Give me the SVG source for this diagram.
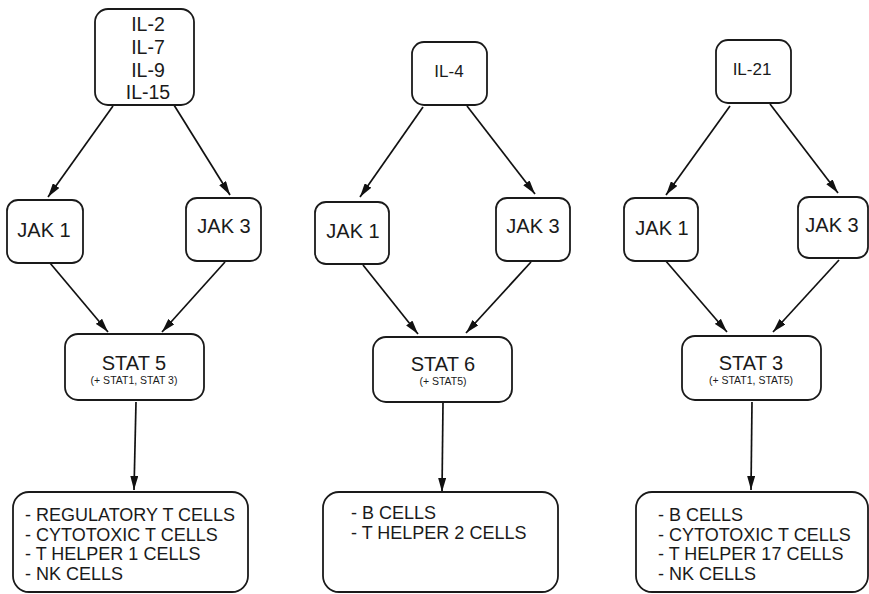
<svg xmlns="http://www.w3.org/2000/svg" width="869" height="594" viewBox="0 0 869 594">
<defs>
<marker id="ah" viewBox="0 0 14 8" refX="14" refY="4" markerWidth="14" markerHeight="8" markerUnits="userSpaceOnUse" orient="auto">
<path d="M0,0 L14,4 L0,8 Z" fill="#111"/>
</marker>
</defs>
<style>
.box{fill:#fff;stroke:#1a1a1a;stroke-width:1.8}
.t{font-family:"Liberation Sans",Arial,sans-serif;fill:#1a1a1a}
.c{text-anchor:middle}
.il{font-size:19.5px}
.jak{font-size:20px}
.stat{font-size:20px}
.sub{font-size:10.5px}
.lst{font-size:18px}
.e{stroke:#111;stroke-width:1.7;fill:none;marker-end:url(#ah)}
</style>
<rect width="869" height="594" fill="#fff"/>
<g id="connectors">
<line class="e" x1="113" y1="106" x2="48" y2="197"/>
<line class="e" x1="174" y1="105" x2="230" y2="195"/>
<line class="e" x1="50" y1="263" x2="108" y2="332"/>
<line class="e" x1="225" y1="262" x2="162" y2="332"/>
<line class="e" x1="136" y1="402" x2="134" y2="490"/>
<line class="e" x1="423" y1="107" x2="360" y2="197"/>
<line class="e" x1="467" y1="106" x2="535" y2="194"/>
<line class="e" x1="363" y1="265" x2="418" y2="334"/>
<line class="e" x1="531" y1="262" x2="466" y2="333"/>
<line class="e" x1="443" y1="403" x2="442" y2="492"/>
<line class="e" x1="730" y1="106" x2="666" y2="195"/>
<line class="e" x1="770" y1="104" x2="838" y2="193"/>
<line class="e" x1="665" y1="260" x2="727" y2="332"/>
<line class="e" x1="839" y1="260" x2="773" y2="332"/>
<line class="e" x1="752" y1="402" x2="751" y2="490"/>
</g>
<g id="il1">
<rect class="box" x="95" y="9" width="99" height="96" rx="13"/>
<text class="t c il" x="148" y="31">IL-2</text>
<text class="t c il" x="148" y="54">IL-7</text>
<text class="t c il" x="148" y="77">IL-9</text>
<text class="t c il" x="148" y="99">IL-15</text>
</g>
<g id="jak1a">
<rect class="box" x="7" y="200" width="76" height="63" rx="11"/>
<text class="t c jak" x="44" y="237">JAK 1</text>
</g>
<g id="jak3a">
<rect class="box" x="186" y="198" width="75" height="63" rx="11"/>
<text class="t c jak" x="224" y="233">JAK 3</text>
</g>
<g id="stat5">
<rect class="box" x="65" y="334" width="139" height="66" rx="13"/>
<text class="t c stat" x="134" y="370">STAT 5</text>
<text class="t c sub" x="134" y="384">(+ STAT1, STAT 3)</text>
</g>
<g id="cells1">
<rect class="box" x="13" y="492" width="235" height="100" rx="16"/>
<text class="t lst" x="25" y="521">- REGULATORY T CELLS</text>
<text class="t lst" x="25" y="540.5">- CYTOTOXIC T CELLS</text>
<text class="t lst" x="25" y="560">- T HELPER 1 CELLS</text>
<text class="t lst" x="25" y="579.5">- NK CELLS</text>
</g>
<g id="il4">
<rect class="box" x="412" y="42" width="75" height="63" rx="12"/>
<text class="t c" style="font-size:17px" x="449" y="77">IL-4</text>
</g>
<g id="jak1b">
<rect class="box" x="315" y="202" width="74" height="62" rx="11"/>
<text class="t c jak" x="353" y="238">JAK 1</text>
</g>
<g id="jak3b">
<rect class="box" x="496" y="198" width="74" height="63" rx="11"/>
<text class="t c jak" x="533" y="233">JAK 3</text>
</g>
<g id="stat6">
<rect class="box" x="373" y="337" width="139" height="65" rx="13"/>
<text class="t c stat" x="443" y="371">STAT 6</text>
<text class="t c sub" x="443" y="385">(+ STAT5)</text>
</g>
<g id="cells2">
<rect class="box" x="323" y="492" width="235" height="100" rx="16"/>
<text class="t lst" x="351" y="519">- B CELLS</text>
<text class="t lst" x="351" y="539">- T HELPER 2 CELLS</text>
</g>
<g id="il21">
<rect class="box" x="716" y="40" width="75" height="63" rx="12"/>
<text class="t c" style="font-size:17px" x="752" y="75">IL-21</text>
</g>
<g id="jak1c">
<rect class="box" x="624" y="198" width="74" height="63" rx="11"/>
<text class="t c jak" x="662" y="235">JAK 1</text>
</g>
<g id="jak3c">
<rect class="box" x="798" y="197" width="70" height="61" rx="11"/>
<text class="t c jak" x="832" y="232">JAK 3</text>
</g>
<g id="stat3">
<rect class="box" x="682" y="336" width="139" height="64" rx="13"/>
<text class="t c stat" x="751" y="370">STAT 3</text>
<text class="t c sub" x="751" y="384">(+ STAT1, STAT5)</text>
</g>
<g id="cells3">
<rect class="box" x="636" y="492" width="232" height="100" rx="16"/>
<text class="t lst" x="658" y="521">- B CELLS</text>
<text class="t lst" x="658" y="540.5">- CYTOTOXIC T CELLS</text>
<text class="t lst" x="658" y="560">- T HELPER 17 CELLS</text>
<text class="t lst" x="658" y="579.5">- NK CELLS</text>
</g>
</svg>
